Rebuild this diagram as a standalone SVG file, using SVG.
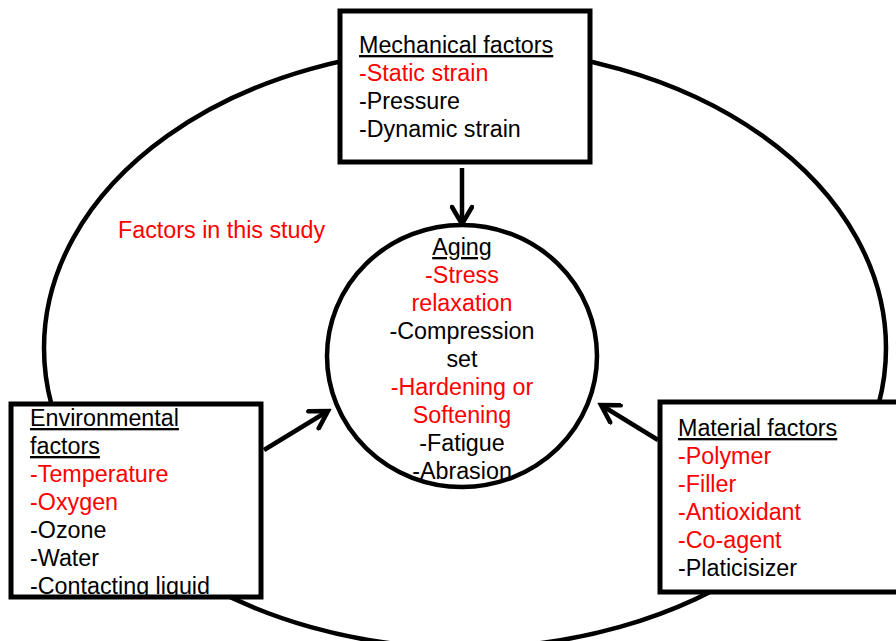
<svg xmlns="http://www.w3.org/2000/svg" width="896" height="641" viewBox="0 0 896 641">
<style>
text{font-family:"Liberation Sans",Arial,sans-serif;font-size:23.3px;fill:#000}
.r{fill:#ff0000}
.u{text-decoration:underline}
.box{fill:#fff;stroke:#000;stroke-width:5}
.ell{fill:none;stroke:#000;stroke-width:4.5}
.arr{stroke:#000;stroke-width:4.5;fill:none}
</style>
<defs>
<marker id="ah" markerUnits="userSpaceOnUse" viewBox="-20 -12 24 24" markerWidth="24" markerHeight="24" refX="0" refY="0" orient="auto">
<path d="M-17,-10 L0,0 L-17,10" fill="none" stroke="#000" stroke-width="4.5" stroke-linecap="round" stroke-linejoin="miter"/>
</marker>
</defs>
<rect width="896" height="641" fill="#fff"/>
<g id="outer"><ellipse class="ell" cx="465" cy="348" rx="421" ry="300"/></g>
<text id="label" class="r" x="118" y="238">Factors in this study</text>
<g id="connectors">
<line class="arr" x1="462" y1="168" x2="462" y2="224" marker-end="url(#ah)"/>
<line class="arr" x1="264" y1="450" x2="328" y2="411" marker-end="url(#ah)"/>
<line class="arr" x1="658" y1="440" x2="601" y2="405" marker-end="url(#ah)"/>
</g>
<g id="aging">
<ellipse cx="462" cy="356" rx="135" ry="131" fill="#fff" stroke="#000" stroke-width="4.5"/>
<g text-anchor="middle">
<text x="462" y="255" class="u">Aging</text>
<text x="462" y="283" class="r">-Stress</text>
<text x="462" y="311" class="r">relaxation</text>
<text x="462" y="339">-Compression</text>
<text x="462" y="367">set</text>
<text x="462" y="395" class="r">-Hardening or</text>
<text x="462" y="423" class="r">Softening</text>
<text x="462" y="451">-Fatigue</text>
<text x="462" y="479">-Abrasion</text>
</g>
</g>
<g id="mechanical">
<rect class="box" x="340" y="11" width="250" height="151"/>
<text x="359" y="53" class="u">Mechanical factors</text>
<text x="359" y="81" class="r">-Static strain</text>
<text x="359" y="109">-Pressure</text>
<text x="359" y="137">-Dynamic strain</text>
</g>
<g id="environmental">
<rect class="box" x="11" y="404" width="250" height="193"/>
<text x="30" y="426" class="u">Environmental</text>
<text x="30" y="454" class="u">factors</text>
<text x="30" y="482" class="r">-Temperature</text>
<text x="30" y="510" class="r">-Oxygen</text>
<text x="30" y="538">-Ozone</text>
<text x="30" y="566">-Water</text>
<text x="30" y="594">-Contacting liquid</text>
</g>
<g id="material">
<rect class="box" x="660" y="402" width="260" height="190"/>
<text x="678" y="436" class="u">Material factors</text>
<text x="678" y="464" class="r">-Polymer</text>
<text x="678" y="492" class="r">-Filler</text>
<text x="678" y="520" class="r">-Antioxidant</text>
<text x="678" y="548" class="r">-Co-agent</text>
<text x="678" y="576">-Platicisizer</text>
</g>
</svg>
